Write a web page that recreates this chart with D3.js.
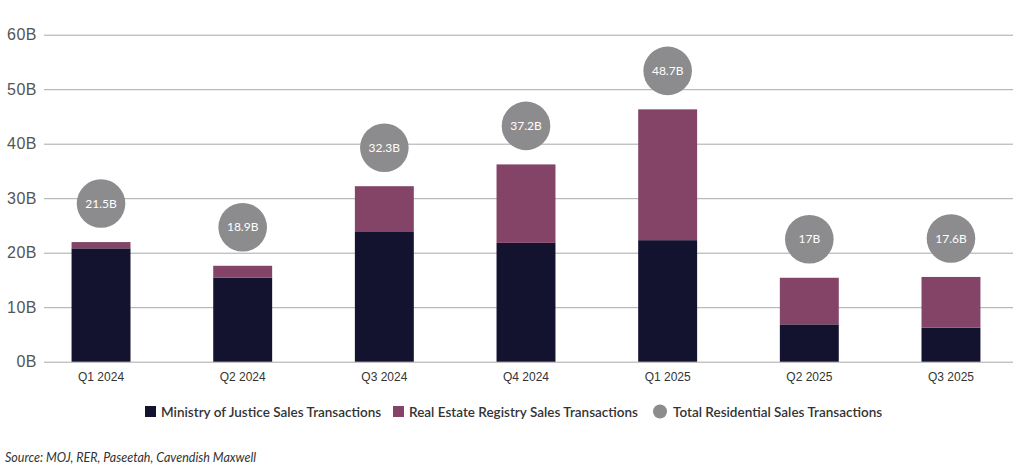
<!DOCTYPE html>
<html>
<head>
<meta charset="utf-8">
<script src="https://cdn.jsdelivr.net/npm/d3@7"></script>
<style>
  body { margin: 0; background: #fff; }
  svg { font-family: Lato, "Open Sans", sans-serif; }
</style>
</head>
<body>
<svg id="chart" width="1024" height="470"></svg>
<script>
var quarters = ['Q1 2024', 'Q2 2024', 'Q3 2024', 'Q4 2024', 'Q1 2025', 'Q2 2025', 'Q3 2025'];
var mojValues = [20.8, 15.4, 23.8, 21.8, 22.3, 6.85, 6.25];
var rerValues = [1.15, 2.2, 8.4, 14.4, 24.0, 8.55, 9.3];
var totalLabels = ['21.5B', '18.9B', '32.3B', '37.2B', '48.7B', '17B', '17.6B'];
var yTicks = [0, 10, 20, 30, 40, 50, 60];
var seriesNames = ['Ministry of Justice Sales Transactions', 'Real Estate Registry Sales Transactions', 'Total Residential Sales Transactions'];

var colors = { moj: '#13122f', rer: '#834467', total: '#8c8b8d' };

var svg = d3.select('#chart');

var x = d3.scaleBand().domain(quarters).range([30.2, 1021.8]).paddingInner(0.584).paddingOuter(0.292);
var y = d3.scaleLinear().domain([0, 60]).range([361.7, 34.7]);

// gridlines + y labels
var yAxis = d3.axisLeft(y).tickValues(yTicks).tickSize(-969).tickFormat(function (d) { return d + 'B'; });
var gy = svg.append('g').attr('transform', 'translate(44,0)').call(yAxis);
gy.select('.domain').remove();
gy.selectAll('.tick line').attr('stroke', '#a9a9a9').attr('stroke-width', 1);
gy.selectAll('.tick text').attr('x', -7).attr('fill', '#555').style('font-size', '16px').style('letter-spacing', '0.5px');

var data = quarters.map(function (q, i) {
  return { q: q, moj: mojValues[i], rer: rerValues[i], label: totalLabels[i] };
});

var bars = svg.append('g');
bars.selectAll('.moj').data(data).enter().append('rect')
  .attr('x', function (d) { return x(d.q); })
  .attr('width', x.bandwidth())
  .attr('y', function (d) { return y(d.moj); })
  .attr('height', function (d) { return y(0) - y(d.moj); })
  .attr('fill', colors.moj);
bars.selectAll('.rer').data(data).enter().append('rect')
  .attr('x', function (d) { return x(d.q); })
  .attr('width', x.bandwidth())
  .attr('y', function (d) { return y(d.moj + d.rer); })
  .attr('height', function (d) { return y(d.moj) - y(d.moj + d.rer); })
  .attr('fill', colors.rer);

// x axis labels
var xAxis = d3.axisBottom(x).tickSize(0);
var gx = svg.append('g').attr('transform', 'translate(0,' + y(0) + ')').call(xAxis);
gx.select('.domain').remove();
gx.selectAll('.tick text').attr('dy', '0').attr('y', 19).attr('fill', '#333').style('font-size', '12px');

// total bubbles above each bar
var bubbles = svg.append('g').selectAll('g').data(data).enter().append('g')
  .attr('transform', function (d) {
    return 'translate(' + (x(d.q) + x.bandwidth() / 2) + ',' + (y(d.moj + d.rer) - 38.5) + ')';
  });
bubbles.append('circle').attr('r', 24.3).attr('fill', colors.total);
bubbles.append('text').attr('text-anchor', 'middle').attr('dy', '0.35em')
  .attr('fill', '#fff').style('font-size', '12px').text(function (d) { return d.label; });

// legend
var legend = svg.append('g').attr('transform', 'translate(0,412)');
var legendItems = [
  { x: 145, type: 'rect', color: colors.moj, name: seriesNames[0] },
  { x: 393, type: 'rect', color: colors.rer, name: seriesNames[1] },
  { x: 653, type: 'circle', color: colors.total, name: seriesNames[2] }
];
legendItems.forEach(function (it) {
  if (it.type === 'rect') {
    legend.append('rect').attr('x', it.x).attr('y', -6).attr('width', 11).attr('height', 11).attr('fill', it.color);
  } else {
    legend.append('circle').attr('cx', it.x + 7).attr('cy', -0.5).attr('r', 7).attr('fill', it.color);
  }
  legend.append('text').attr('x', it.x + (it.type === 'rect' ? 16 : 20)).attr('dy', '0.35em')
    .attr('fill', '#333').style('font-size', '13.5px').style('font-weight', '600').text(it.name);
});

svg.append('text').attr('x', 5).attr('y', 462).attr('fill', '#333')
  .style('font-size', '12.5px').style('font-style', 'italic')
  .text('Source: MOJ, RER, Paseetah, Cavendish Maxwell');
</script>
</body>
</html>
